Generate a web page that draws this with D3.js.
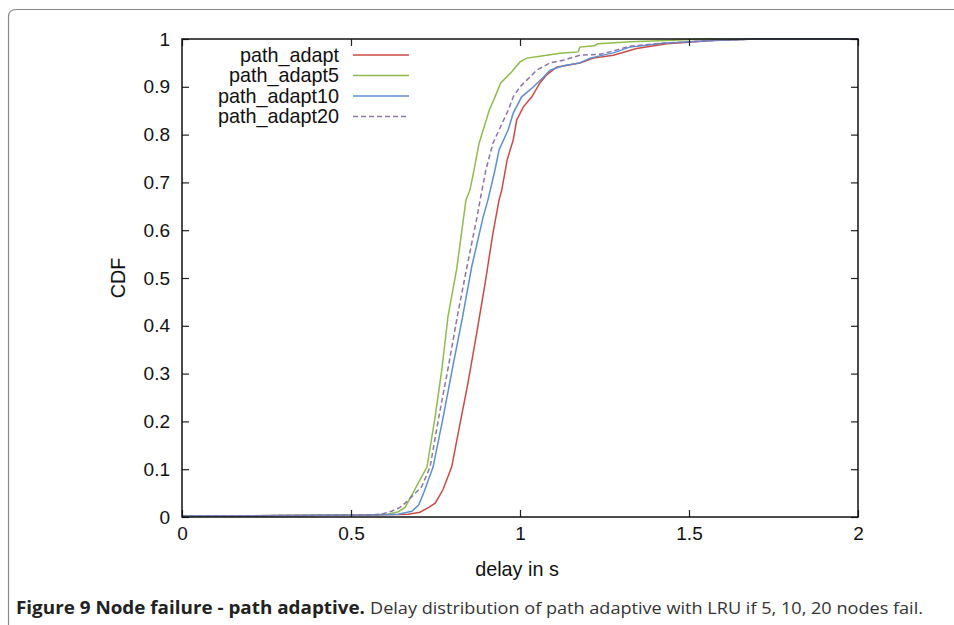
<!DOCTYPE html>
<html><head><meta charset="utf-8">
<script src="https://cdn.jsdelivr.net/npm/d3@7"></script>
<style>body{margin:0;background:#fff}svg{display:block}</style>
</head><body>
<script>
const seriesNames = ["path_adapt","path_adapt5","path_adapt10","path_adapt20"];
const colors = ["#cc4a43","#8fbb4c","#5b8fd3","#8a74a8"];
const xTicks = [0,0.5,1,1.5,2];
const yTicks = [0,0.1,0.2,0.3,0.4,0.5,0.6,0.7,0.8,0.9,1];

const delayAdapt = [0,0.3,0.55,0.64,0.67,0.704,0.73,0.749,0.772,0.798,0.817,0.846,0.872,0.897,0.92,0.938,0.946,0.962,0.98,0.99,1.01,1.035,1.059,1.079,1.108,1.177,1.217,1.276,1.345,1.434,1.57,1.7,2];
const cdfAdapt   = [0.002,0.003,0.004,0.005,0.006,0.01,0.02,0.029,0.057,0.105,0.175,0.28,0.385,0.49,0.594,0.663,0.684,0.747,0.789,0.83,0.858,0.879,0.908,0.925,0.941,0.95,0.96,0.966,0.98,0.99,0.997,1,1];

const delayAdapt5 = [0,0.3,0.55,0.61,0.64,0.66,0.683,0.725,0.749,0.769,0.787,0.813,0.84,0.852,0.864,0.879,0.909,0.926,0.943,0.975,1.0,1.02,1.059,1.118,1.172,1.177,1.22,1.23,1.33,1.47,1.55,2];
const cdfAdapt5   = [0.002,0.003,0.004,0.006,0.011,0.02,0.05,0.105,0.21,0.31,0.42,0.52,0.663,0.684,0.726,0.782,0.851,0.879,0.908,0.931,0.952,0.96,0.964,0.970,0.973,0.983,0.986,0.99,0.994,0.998,1,1];

const delayAdapt10 = [0,0.3,0.55,0.64,0.68,0.70,0.715,0.743,0.773,0.801,0.830,0.857,0.891,0.905,0.926,0.938,0.965,0.98,1.005,1.04,1.069,1.089,1.128,1.177,1.207,1.276,1.325,1.424,1.571,1.7,2];
const cdfAdapt10   = [0.002,0.003,0.004,0.006,0.012,0.025,0.05,0.105,0.21,0.314,0.418,0.523,0.628,0.663,0.726,0.768,0.81,0.845,0.879,0.9,0.92,0.935,0.944,0.95,0.96,0.971,0.983,0.991,0.997,1,1];

const delayAdapt20 = [0,0.3,0.55,0.59,0.62,0.645,0.66,0.709,0.734,0.76,0.788,0.814,0.843,0.873,0.882,0.899,0.92,0.965,0.98,1.0,1.02,1.05,1.089,1.13,1.177,1.237,1.276,1.325,1.42,1.57,1.7,2];
const cdfAdapt20   = [0.002,0.003,0.004,0.006,0.012,0.02,0.029,0.063,0.105,0.21,0.314,0.418,0.523,0.628,0.663,0.726,0.782,0.851,0.879,0.9,0.914,0.935,0.95,0.956,0.966,0.968,0.975,0.985,0.991,0.997,1,1];

const delays = [delayAdapt, delayAdapt5, delayAdapt10, delayAdapt20];
const cdfs = [cdfAdapt, cdfAdapt5, cdfAdapt10, cdfAdapt20];
const dashes = [null, null, null, "5,3"];

const W = 954, H = 625;
const svg = d3.select("body").append("svg").attr("width", W).attr("height", H);

// outer frame
svg.append("path")
  .attr("d", "M8.5,625 L8.5,17 Q8.5,9.5 16,9.5 L954,9.5")
  .attr("fill","none").attr("stroke","#8a8a8a").attr("stroke-width",1.2);

const L = 182, R = 858, T = 39, B = 517;
const x = d3.scaleLinear().domain([0,2]).range([L,R]);
const y = d3.scaleLinear().domain([0,1]).range([B,T]);
const font = "'Liberation Sans', Arial, sans-serif";

const g = svg.append("g");

// series
const line = d3.line().x(d=>x(d[0])).y(d=>y(d[1]));
seriesNames.forEach((name,i)=>{
  const pts = delays[i].map((d,j)=>[d, cdfs[i][j]]);
  g.append("path").datum(pts).attr("d", line)
    .attr("fill","none").attr("stroke", colors[i]).attr("stroke-width",1.5)
    .attr("stroke-dasharray", dashes[i]);
});

// axes with inward ticks
const tl = 7;
const axB = g.append("g").attr("transform",`translate(0,${B})`)
  .call(d3.axisBottom(x).tickValues(xTicks).tickFormat(d3.format("")).tickSize(-tl).tickPadding(10));
const axT = g.append("g").attr("transform",`translate(0,${T})`)
  .call(d3.axisTop(x).tickValues(xTicks).tickFormat("").tickSize(-tl));
const axL = g.append("g").attr("transform",`translate(${L},0)`)
  .call(d3.axisLeft(y).tickValues(yTicks).tickFormat(d3.format("")).tickSize(-tl).tickPadding(12));
const axR = g.append("g").attr("transform",`translate(${R},0)`)
  .call(d3.axisRight(y).tickValues(yTicks).tickFormat("").tickSize(-tl));
[axB,axT,axL,axR].forEach(a=>{
  a.select(".domain").remove();
  a.selectAll("line").attr("stroke","#222").attr("stroke-width",1.2);
  a.selectAll("text").attr("font-family",font).attr("font-size",19).attr("fill","#111");
});
axB.selectAll("text").attr("dy","0.71em");
g.append("rect").attr("x",L).attr("y",T).attr("width",R-L).attr("height",B-T)
  .attr("fill","none").attr("stroke","#111").attr("stroke-width",1.5);

// legend
const legY = [55,75.5,96,116.5];
seriesNames.forEach((name,i)=>{
  g.append("text").attr("x",339).attr("y",legY[i]).attr("dy","0.35em")
    .attr("text-anchor","end").attr("font-family",font).attr("font-size",19.8).attr("fill","#111").text(name);
  g.append("line").attr("x1",353).attr("x2",409).attr("y1",legY[i]).attr("y2",legY[i])
    .attr("stroke",colors[i]).attr("stroke-width",1.5).attr("stroke-dasharray",dashes[i]);
});

// axis titles
g.append("text").attr("x",517).attr("y",576).attr("text-anchor","middle")
  .attr("font-family",font).attr("font-size",19.8).attr("fill","#111").text("delay in s");
g.append("text").attr("transform","translate(125,278) rotate(-90)").attr("text-anchor","middle")
  .attr("font-family",font).attr("font-size",19.8).attr("fill","#111").text("CDF");

// caption
const cf = "'Open Sans', 'Noto Sans', sans-serif";
svg.append("text").attr("x",16).attr("y",614).attr("font-family",cf).attr("font-size",17)
  .attr("font-weight","bold").attr("fill","#222")
  .attr("textLength",349).attr("lengthAdjust","spacingAndGlyphs")
  .text("Figure 9 Node failure - path adaptive.");
svg.append("text").attr("x",370).attr("y",614).attr("font-family",cf).attr("font-size",17)
  .attr("fill","#333")
  .attr("textLength",553).attr("lengthAdjust","spacingAndGlyphs")
  .text("Delay distribution of path adaptive with LRU if 5, 10, 20 nodes fail.");
</script>
</body></html>
